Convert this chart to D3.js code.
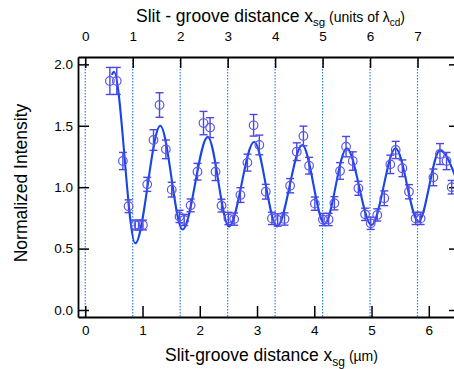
<!DOCTYPE html>
<html><head><meta charset="utf-8">
<script src="https://cdn.jsdelivr.net/npm/d3@7"></script>
<style>
html,body{margin:0;padding:0;background:#fff;}
svg{display:block;font-family:"Liberation Sans",Arial,Helvetica,sans-serif;}
</style></head>
<body>
<svg id="chart" width="454" height="369"></svg>
<script>
// ---- data ----
const dataX = [0.43,0.55,0.657,0.756,0.873,0.93,1.007,1.082,1.192,1.297,1.408,1.51,1.646,1.728,1.84,1.96,2.065,2.18,2.275,2.38,2.50,2.60,2.71,2.832,2.94,3.04,3.153,3.26,3.36,3.48,3.578,3.694,3.81,3.909,4.01,4.15,4.25,4.351,4.45,4.555,4.672,4.77,4.887,4.986,5.10,5.223,5.328,5.422,5.538,5.654,5.77,5.857,6.08,6.195,6.31,6.40];
const dataY = [1.865,1.865,1.213,0.845,0.692,0.692,0.692,1.023,1.384,1.669,1.308,0.98,0.762,0.733,0.852,1.126,1.522,1.485,1.126,0.85,0.745,0.74,0.936,1.20,1.504,1.344,0.963,0.746,0.733,0.741,1.012,1.289,1.417,1.175,0.866,0.737,0.737,0.869,1.132,1.33,1.213,0.991,0.779,0.706,0.774,0.91,1.186,1.303,1.154,0.963,0.746,0.746,1.08,1.27,1.213,1.00];
const dataErr = [0.11,0.11,0.07,0.052,0.04,0.04,0.04,0.057,0.084,0.10,0.076,0.06,0.05,0.045,0.052,0.068,0.095,0.081,0.072,0.052,0.05,0.05,0.06,0.069,0.088,0.08,0.06,0.05,0.05,0.05,0.058,0.072,0.08,0.068,0.054,0.05,0.05,0.054,0.068,0.083,0.075,0.057,0.05,0.05,0.05,0.06,0.075,0.07,0.068,0.058,0.05,0.05,0.068,0.085,0.07,0.055];
// fitted curve, sampled at its visible turning points
const fitX = [0.465,0.50,0.873,1.31,1.70,2.14,2.51,2.95,3.35,3.79,4.18,4.567,5.0,5.42,5.82,6.195,6.47];
const fitY = [1.915,1.94,0.543,1.50,0.655,1.41,0.68,1.37,0.68,1.344,0.70,1.317,0.692,1.317,0.72,1.30,1.08];
const lambdaCd = 0.829; // µm per top-axis unit
const bottomTicks = [0,1,2,3,4,5,6];
const topTicks = [0,1,2,3,4,5,6,7];
const leftTicks = [0.0,0.5,1.0,1.5,2.0];

// ---- layout ----
const L = 78, R = 460, T = 57, B = 317;
const svg = d3.select("#chart");
const x = d3.scaleLinear().domain([-0.127, 6.545]).range([L, R]);
const xTop = d3.scaleLinear().domain([-0.127/lambdaCd, 6.545/lambdaCd]).range([L, R]);
const y = d3.scaleLinear().domain([-0.057, 2.06]).range([B, T]);

// dotted guide lines at top ticks
svg.append("g").selectAll("line").data(topTicks).join("line")
  .attr("x1", d => xTop(d)).attr("x2", d => xTop(d))
  .attr("y1", T).attr("y2", B)
  .attr("stroke", "#2f80e6").attr("stroke-width", 1.2)
  .attr("stroke-dasharray", "1.5,1.5");

// axes
function styleAxis(g){
  g.selectAll(".domain").attr("stroke","#000").attr("stroke-width",1.8);
  g.selectAll(".tick line").attr("stroke","#000").attr("stroke-width",1.5);
  g.selectAll("text").attr("fill","#000").style("font-size","13.5px")
    .style("font-family",'"Liberation Sans",Arial,Helvetica,sans-serif');
}
svg.append("g").attr("transform",`translate(0,${B})`)
  .call(d3.axisBottom(x).tickValues(bottomTicks).tickFormat(d3.format("d")).tickSize(-11).tickSizeOuter(0).tickPadding(8))
  .call(styleAxis);
svg.append("g").attr("transform",`translate(0,${T})`)
  .call(d3.axisTop(xTop).tickValues(topTicks).tickFormat(d3.format("d")).tickSize(-11).tickSizeOuter(0).tickPadding(16))
  .call(styleAxis);
svg.append("g").attr("transform",`translate(${L},0)`)
  .call(d3.axisLeft(y).tickValues(leftTicks).tickFormat(d3.format(".1f")).tickSize(-11).tickSizeOuter(0).tickPadding(5))
  .call(styleAxis);
svg.append("g").attr("transform",`translate(${R},0)`)
  .call(d3.axisRight(y).tickValues(leftTicks).tickFormat("").tickSize(-11).tickSizeOuter(0))
  .call(styleAxis);

// fit curve
const pts = fitX.map((d,i)=>[d,fitY[i]]);
svg.append("path").datum(pts)
  .attr("d", d3.line().x(d=>x(d[0])).y(d=>y(d[1])).curve(d3.curveMonotoneX))
  .attr("fill","none").attr("stroke","#1746e6").attr("stroke-width",2.1);

// error bars and markers
const data = dataX.map((d,i)=>({x:d,y:dataY[i],e:dataErr[i]}));
const markCol = "#4a46e8";
const eb = svg.append("g").attr("stroke", markCol).attr("stroke-width",1.4).attr("fill","none");
eb.selectAll("line.v").data(data).join("line").attr("class","v")
  .attr("x1",d=>x(d.x)).attr("x2",d=>x(d.x))
  .attr("y1",d=>y(d.y+d.e)).attr("y2",d=>y(d.y-d.e));
eb.selectAll("line.t").data(data).join("line").attr("class","t")
  .attr("x1",d=>x(d.x)-4).attr("x2",d=>x(d.x)+4)
  .attr("y1",d=>y(d.y+d.e)).attr("y2",d=>y(d.y+d.e));
eb.selectAll("line.b").data(data).join("line").attr("class","b")
  .attr("x1",d=>x(d.x)-4).attr("x2",d=>x(d.x)+4)
  .attr("y1",d=>y(d.y-d.e)).attr("y2",d=>y(d.y-d.e));
svg.append("g").selectAll("circle").data(data).join("circle")
  .attr("cx",d=>x(d.x)).attr("cy",d=>y(d.y)).attr("r",4.3)
  .attr("fill","none").attr("stroke","#5a58ea").attr("stroke-width",1.2);

// titles
const topT = svg.append("text").attr("x",136).attr("y",22).attr("fill","#000").style("font-size","17.5px");
topT.append("tspan").text("Slit - groove distance x");
topT.append("tspan").attr("dy",4).style("font-size","11.5px").text("sg");
topT.append("tspan").attr("dy",-4).style("font-size","14px").text(" (units of λ");
topT.append("tspan").attr("dy",3.5).style("font-size","10px").text("cd");
topT.append("tspan").attr("dy",-3.5).style("font-size","14px").text(")");

const botT = svg.append("text").attr("x",165).attr("y",361).attr("fill","#000").style("font-size","17.5px");
botT.append("tspan").text("Slit-groove distance x");
botT.append("tspan").attr("dy",5).style("font-size","12px").text("sg");
botT.append("tspan").attr("dy",-5).style("font-size","14px").text(" (µm)");

svg.append("text").attr("transform","translate(27,183) rotate(-90)")
  .attr("text-anchor","middle").attr("fill","#000").style("font-size","17.5px")
  .text("Normalized Intensity");
</script>
</body></html>
